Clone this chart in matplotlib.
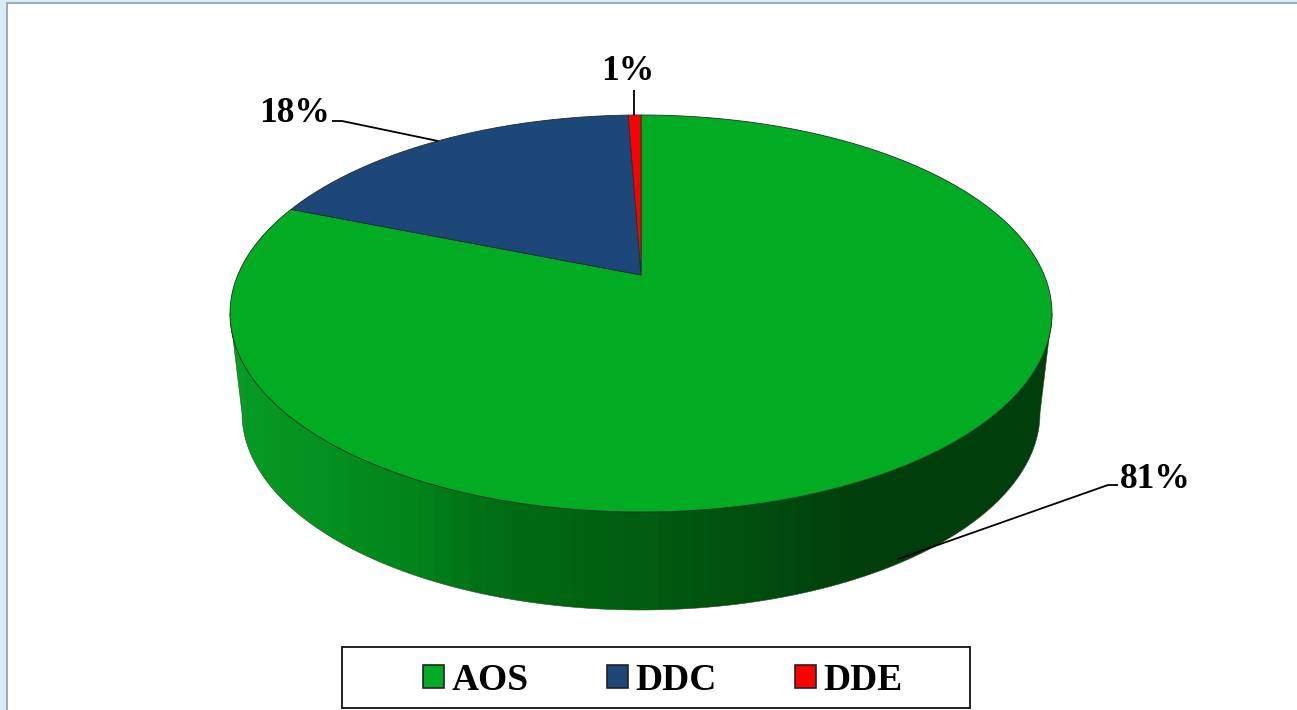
import matplotlib
matplotlib.use("Agg")
import matplotlib.pyplot as plt
import numpy as np
from matplotlib.colors import LinearSegmentedColormap
from matplotlib.patches import Patch, Polygon, Rectangle

# data
categorias = ["AOS", "DDC", "DDE"]
valores = [81.0, 18.4, 0.6]
etiquetas = ["81%", "18%", "1%"]
colores = ["#02AC22", "#1D4679", "#FF0000"]

# geometria del pastel en pixeles
cx, cy, rx, ry = 641, 313.5, 411, 198.5
apice_y = 275
bx, by, brx, bry = 641, 413, 399, 197
serif = "Liberation Serif"


def proyectar(ang, r=1.0):
    # angulo desde arriba en sentido horario, con perspectiva
    a = (apice_y - cy) / ry
    u = r * np.sin(ang)
    v = -r * np.cos(ang)
    den = 1 + a * v
    return cx + rx * u * np.sqrt(1 - a * a) / den, cy + ry * (v + a) / den


fig = plt.figure(figsize=(12.97, 7.10), dpi=100, facecolor="#D8EEF6")
ax = fig.add_axes([0, 0, 1, 1])
ax.set_xlim(0, 1297)
ax.set_ylim(710, 0)
ax.axis("off")

# marco de fondo
ax.add_patch(Rectangle((6.5, 3), 1300, 720, fc="white", ec="#9AA4AC", lw=1.3, zorder=0))

# lado con degradado
t = np.linspace(-np.pi / 2, np.pi / 2, 200)
arriba = np.column_stack([cx - rx * np.sin(t), cy + ry * np.cos(t)])
abajo = np.column_stack([bx + brx * np.sin(t), by + bry * np.cos(t)])
lado = Polygon(np.vstack([arriba, abajo]), closed=True, fc="none", ec="#2a4a2a", lw=0.4, zorder=2)
ax.add_patch(lado)
x0, x1 = 228, 1054
paradas_x = [228, 330, 400, 500, 650, 750, 860, 1054]
paradas_c = ["#069C25", "#04901F", "#02851A", "#006C14", "#005C10", "#004F0E", "#003F0C", "#003F0C"]
paradas = [((x - x0) / (x1 - x0), c) for x, c in zip(paradas_x, paradas_c)]
cmap = LinearSegmentedColormap.from_list("lado", paradas, N=48)
img = ax.imshow(np.linspace(0, 1, 512).reshape(1, -1), cmap=cmap, aspect="auto",
                extent=(x0, x1, 710, 0), zorder=1)
img.set_clip_path(lado)
ax.set_xlim(0, 1297)
ax.set_ylim(710, 0)

# cara superior, calculada de los valores
fracciones = np.array(valores) / sum(valores)
inicio = 0.0
for val, col in zip(fracciones, colores):
    fin = inicio + val * 2 * np.pi
    angs = np.linspace(inicio, fin, max(int(val * 720), 6))
    xs, ys = proyectar(angs)
    pts = np.column_stack([np.r_[cx, xs], np.r_[apice_y, ys]])
    ax.add_patch(Polygon(pts, closed=True, fc=col, ec="#20302a", lw=0.6, zorder=3))
    inicio = fin

# lineas guia
guias = [
    ([1118, 1108, 898], [485, 485, 559]),
    ([332, 342, 438], [121, 121, 141]),
    ([634, 634], [90, 115]),
]
for gx, gy in guias:
    ax.plot(gx, gy, color="black", lw=1.3, zorder=4, solid_capstyle="butt")

# etiquetas
pos_etiquetas = [(1155.5, 480, "center"), (295, 113, "center"), (628, 71, "center")]
for (px, py, al), txt in zip(pos_etiquetas, etiquetas):
    ax.text(px, py, txt, family=serif, weight="bold", fontsize=25.5, ha=al, va="center",
            color="black", zorder=5)

# leyenda
ax.add_patch(Rectangle((342, 647), 628, 61, fc="white", ec="#111111", lw=1.3, zorder=4))
handles = [Patch(fc=c, ec="#222222", lw=1.2, label=n) for c, n in zip(colores, categorias)]
ley = ax.legend(handles=handles, ncol=3, frameon=False, loc="center",
                bbox_to_anchor=(663 / 1297, 1 - 680 / 710),
                prop={"family": serif, "weight": "bold", "size": 27},
                handlelength=0.55, handleheight=0.55, handletextpad=0.2,
                columnspacing=2.1)
ley.set_zorder(5)

fig.savefig("out.png", dpi=100, facecolor=fig.get_facecolor())
